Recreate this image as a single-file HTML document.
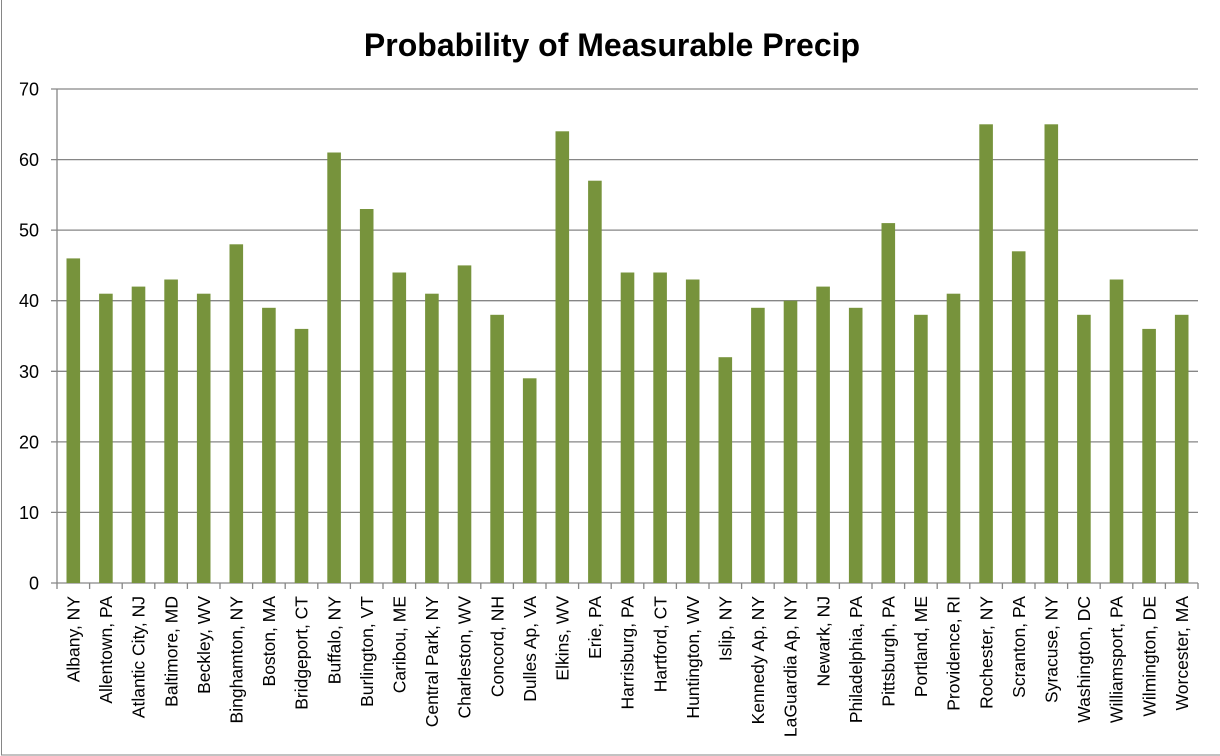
<!DOCTYPE html>
<html><head><style>body{margin:0;background:#fff}svg{display:block}</style></head><body>
<svg width="1220" height="756" xmlns="http://www.w3.org/2000/svg" font-family="'Liberation Sans',sans-serif">
<rect x="1.5" y="-2" width="1230" height="757" fill="#fff" stroke="#868686" stroke-width="1"/>
<text x="612" y="56" text-anchor="middle" font-size="32" font-weight="bold" fill="#000">Probability of Measurable Precip</text>
<g stroke="#868686" stroke-width="1.3">
<line x1="51" x2="1198" y1="583" y2="583"/>
<line x1="51" x2="1198" y1="512.4" y2="512.4"/>
<line x1="51" x2="1198" y1="441.9" y2="441.9"/>
<line x1="51" x2="1198" y1="371.3" y2="371.3"/>
<line x1="51" x2="1198" y1="300.7" y2="300.7"/>
<line x1="51" x2="1198" y1="230.1" y2="230.1"/>
<line x1="51" x2="1198" y1="159.6" y2="159.6"/>
<line x1="51" x2="1198" y1="89" y2="89"/>
</g>
<g font-size="18" text-anchor="end" fill="#000">
<text x="39" y="589.5">0</text>
<text x="39" y="518.9">10</text>
<text x="39" y="448.4">20</text>
<text x="39" y="377.8">30</text>
<text x="39" y="307.2">40</text>
<text x="39" y="236.6">50</text>
<text x="39" y="166.1">60</text>
<text x="39" y="95.5">70</text>
</g>
<g fill="#77933C">
<rect x="66.5" y="258.4" width="13.6" height="324.6"/>
<rect x="99.1" y="293.7" width="13.6" height="289.3"/>
<rect x="131.7" y="286.6" width="13.6" height="296.4"/>
<rect x="164.3" y="279.5" width="13.6" height="303.5"/>
<rect x="196.9" y="293.7" width="13.6" height="289.3"/>
<rect x="229.5" y="244.3" width="13.6" height="338.7"/>
<rect x="262.1" y="307.8" width="13.6" height="275.2"/>
<rect x="294.7" y="328.9" width="13.6" height="254.1"/>
<rect x="327.3" y="152.5" width="13.6" height="430.5"/>
<rect x="359.9" y="209.0" width="13.6" height="374.0"/>
<rect x="392.5" y="272.5" width="13.6" height="310.5"/>
<rect x="425.1" y="293.7" width="13.6" height="289.3"/>
<rect x="457.7" y="265.4" width="13.6" height="317.6"/>
<rect x="490.3" y="314.8" width="13.6" height="268.2"/>
<rect x="522.9" y="378.3" width="13.6" height="204.7"/>
<rect x="555.5" y="131.3" width="13.6" height="451.7"/>
<rect x="588.1" y="180.7" width="13.6" height="402.3"/>
<rect x="620.7" y="272.5" width="13.6" height="310.5"/>
<rect x="653.3" y="272.5" width="13.6" height="310.5"/>
<rect x="685.9" y="279.5" width="13.6" height="303.5"/>
<rect x="718.5" y="357.2" width="13.6" height="225.8"/>
<rect x="751.1" y="307.8" width="13.6" height="275.2"/>
<rect x="783.7" y="300.7" width="13.6" height="282.3"/>
<rect x="816.3" y="286.6" width="13.6" height="296.4"/>
<rect x="848.9" y="307.8" width="13.6" height="275.2"/>
<rect x="881.5" y="223.1" width="13.6" height="359.9"/>
<rect x="914.1" y="314.8" width="13.6" height="268.2"/>
<rect x="946.7" y="293.7" width="13.6" height="289.3"/>
<rect x="979.3" y="124.3" width="13.6" height="458.7"/>
<rect x="1011.9" y="251.3" width="13.6" height="331.7"/>
<rect x="1044.5" y="124.3" width="13.6" height="458.7"/>
<rect x="1077.1" y="314.8" width="13.6" height="268.2"/>
<rect x="1109.7" y="279.5" width="13.6" height="303.5"/>
<rect x="1142.3" y="328.9" width="13.6" height="254.1"/>
<rect x="1174.9" y="314.8" width="13.6" height="268.2"/>
</g>
<line x1="57" x2="57" y1="89" y2="583" stroke="#868686" stroke-width="1.3"/>
<line x1="56.35" x2="1199" y1="586" y2="586" stroke="#868686" stroke-width="6" stroke-dasharray="1.3 31.3"/>
<g font-size="17.5" text-anchor="end" fill="#000">
<text transform="translate(79.5,596) rotate(-90)">Albany, NY</text>
<text transform="translate(112.1,596) rotate(-90)">Allentown, PA</text>
<text transform="translate(144.7,596) rotate(-90)">Atlantic City, NJ</text>
<text transform="translate(177.3,596) rotate(-90)">Baltimore, MD</text>
<text transform="translate(209.9,596) rotate(-90)">Beckley, WV</text>
<text transform="translate(242.5,596) rotate(-90)">Binghamton, NY</text>
<text transform="translate(275.1,596) rotate(-90)">Boston, MA</text>
<text transform="translate(307.7,596) rotate(-90)">Bridgeport, CT</text>
<text transform="translate(340.3,596) rotate(-90)">Buffalo, NY</text>
<text transform="translate(372.9,596) rotate(-90)">Burlington, VT</text>
<text transform="translate(405.5,596) rotate(-90)">Caribou, ME</text>
<text transform="translate(438.1,596) rotate(-90)">Central Park, NY</text>
<text transform="translate(470.7,596) rotate(-90)">Charleston, WV</text>
<text transform="translate(503.3,596) rotate(-90)">Concord, NH</text>
<text transform="translate(535.9,596) rotate(-90)">Dulles Ap, VA</text>
<text transform="translate(568.5,596) rotate(-90)">Elkins, WV</text>
<text transform="translate(601.1,596) rotate(-90)">Erie, PA</text>
<text transform="translate(633.7,596) rotate(-90)">Harrisburg, PA</text>
<text transform="translate(666.3,596) rotate(-90)">Hartford, CT</text>
<text transform="translate(698.9,596) rotate(-90)">Huntington, WV</text>
<text transform="translate(731.5,596) rotate(-90)">Islip, NY</text>
<text transform="translate(764.1,596) rotate(-90)">Kennedy Ap, NY</text>
<text transform="translate(796.7,596) rotate(-90)">LaGuardia Ap, NY</text>
<text transform="translate(829.3,596) rotate(-90)">Newark, NJ</text>
<text transform="translate(861.9,596) rotate(-90)">Philadelphia, PA</text>
<text transform="translate(894.5,596) rotate(-90)">Pittsburgh, PA</text>
<text transform="translate(927.1,596) rotate(-90)">Portland, ME</text>
<text transform="translate(959.7,596) rotate(-90)">Providence, RI</text>
<text transform="translate(992.3,596) rotate(-90)">Rochester, NY</text>
<text transform="translate(1024.9,596) rotate(-90)">Scranton, PA</text>
<text transform="translate(1057.5,596) rotate(-90)">Syracuse, NY</text>
<text transform="translate(1090.1,596) rotate(-90)">Washington, DC</text>
<text transform="translate(1122.7,596) rotate(-90)">Williamsport, PA</text>
<text transform="translate(1155.3,596) rotate(-90)">Wilmington, DE</text>
<text transform="translate(1187.9,596) rotate(-90)">Worcester, MA</text>
</g>
</svg>
</body></html>
